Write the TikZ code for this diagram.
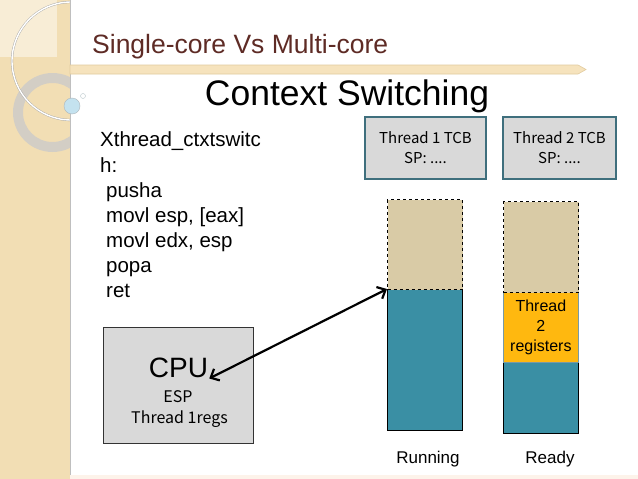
\documentclass[tikz,border=0pt]{standalone}
\usepackage{fontspec}
\setmainfont{Liberation Sans}
\newfontfamily\gothic{Noto Sans CJK JP}
\usetikzlibrary{positioning,arrows.meta}
\definecolor{stripbeige}{HTML}{F2DEB4}
\definecolor{bandbeige}{HTML}{F6E3BD}
\definecolor{bandedge}{HTML}{E2CB9E}
\definecolor{titlebrown}{HTML}{5E2B25}
\definecolor{boxgrey}{HTML}{D9D9D9}
\definecolor{tcbline}{HTML}{3F6F7D}
\definecolor{stackfree}{HTML}{D9CBA6}
\definecolor{stackused}{HTML}{3A8FA4}
\definecolor{regsorange}{HTML}{FFB80F}
\definecolor{ringgrey}{HTML}{D3CEC5}
\definecolor{dotblue}{HTML}{C4E2EF}
\definecolor{bottomband}{HTML}{FDF3EA}
\tikzset{tcbbox/.style={draw=tcbline,fill=boxgrey,line width=1.2pt,minimum height=62,align=center,font=\gothic\fontsize{15}{20}\selectfont}}
\tikzset{cpubox/.style={draw=black!80,fill=boxgrey,line width=1pt,minimum width=150,minimum height=116}}
\tikzset{freepart/.style={draw=black,dashed,fill=stackfree,line width=1pt,minimum width=75,anchor=north west}}
\tikzset{usedpart/.style={draw=black,fill=stackused,line width=1pt,minimum width=75,anchor=north west}}
\tikzset{regspart/.style={draw=tcbline!70,fill=regsorange,line width=0.8pt,minimum width=75,anchor=north west,align=center,font=\fontsize{16}{20}\selectfont}}
\tikzset{codeline/.style={anchor=base west,inner sep=0pt,font=\fontsize{20.5}{25}\selectfont}}
\tikzset{smalltext/.style={anchor=base,inner sep=0pt,font=\gothic\fontsize{16}{18}\selectfont}}
\tikzset{statelabel/.style={anchor=base,inner sep=0pt,font=\fontsize{17}{20}\selectfont}}
\tikzset{dblarrow/.style={{Straight Barb[length=7pt,width=13pt]}-{Straight Barb[length=7pt,width=13pt]},line width=2.2pt}}
\begin{document}
\begin{tikzpicture}[x=1pt,y=-1pt]
    		\useasboundingbox (0,0) rectangle (638,479);
    		\fill[white] (0,0) rectangle (638,479);
    		\fill[stripbeige] (0,0) rectangle (70,479);
    		\fill[stripbeige!55!white] (0,0) rectangle (57,57);
    		\begin{scope}
    			\clip (0,0) rectangle (70,479);
    			\fill[ringgrey,even odd rule] (52.5,112.5) circle (39.5pt) (52.5,112.5) circle (29.5pt);
    			\draw[draw=black!35,double=white,double distance=1.4pt] (71,61) circle (59pt);
    		\end{scope}
    		\draw[black!25,line width=0.8pt] (70,0) -- (70,479);
    		\fill[bottomband] (70,475) rectangle (638,479);
    		\draw[bandedge,fill=bandbeige,line width=0.6pt] (70,65) -- (578,65) -- (586,69.5) -- (578,74) -- (70,74) -- cycle;
    		\draw[dotblue!60!black!60,fill=dotblue] (72,106) circle (8pt);
    		\draw[dotblue!70!black!60,fill=white] (83,96) circle (2.5pt);
    		\node[anchor=base west,inner sep=0pt,text=titlebrown,font=\fontsize{26.5}{30}\selectfont] (title) at (92,53) {Single-core Vs Multi-core};
    		\node[anchor=base,inner sep=0pt,font=\fontsize{35.5}{40}\selectfont] (heading) at (347,105) {Context Switching};
    		\foreach \x/\y/\txt in {100/146/Xthread\_ctxtswitc,100/172/h:,106/197/pusha,106/222/{movl esp, [eax]},106/247/{movl edx, esp},106/272/popa,106/297/ret}
        	{
        		\node[codeline] at (\x,\y) {\txt};
        	}
    		\node[cpubox,anchor=north west] (cpu) at (103,327) {};
    		\node[anchor=base,inner sep=1pt,font=\fontsize{28}{30}\selectfont] (cpulabel) at (178.5,377) {CPU};
    		\node[smalltext] (esp) at (178,402) {ESP};
    		\node[smalltext] (regs1) at (179.5,423) {Thread 1regs};
    		\node[tcbbox,minimum width=121] (tcb1) at (425.5,148) {Thread 1 TCB\\SP: ....};
    		\node[tcbbox,minimum width=113] (tcb2) at (559.5,148) {Thread 2 TCB\\SP: ....};
    		\node[usedpart,minimum height=141] (used1) at (387,289) {};
    		\node[freepart,minimum height=90] (free1) at (387,199) {};
    		\node[usedpart,minimum height=71] (used2) at (503,362) {};
    		\node[regspart,minimum height=70] (regs2) at (503,292) {Thread\\2\\registers};
    		\node[freepart,minimum height=91] (free2) at (503,201) {};
    		\draw[dblarrow] (cpulabel.south east) -- (used1.north west);
    		\node[statelabel] (running) at (428,463) {Running};
    		\node[statelabel] (ready) at (550,463) {Ready};
		\end{tikzpicture}
\end{document}
